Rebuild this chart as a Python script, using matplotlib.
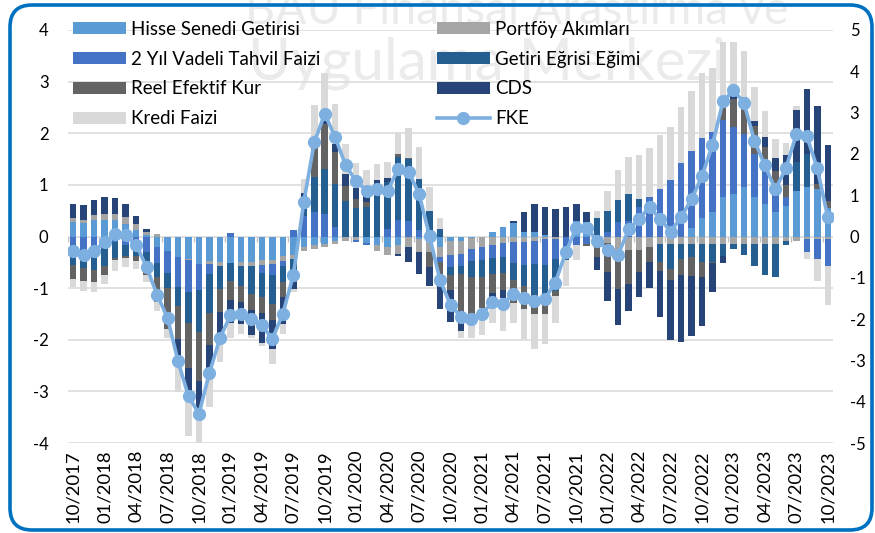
import numpy as np
import pandas as pd
import matplotlib
matplotlib.use("Agg")
import matplotlib.pyplot as plt
from matplotlib.patches import Patch, FancyBboxPatch
from matplotlib.lines import Line2D
from matplotlib.transforms import IdentityTransform

plt.rcParams['font.family'] = ['Lato', 'DejaVu Sans']
plt.rcParams['axes.unicode_minus'] = False

# ---------------- data ----------------
months = [d.strftime("%m/%Y") for d in pd.date_range("2017-10-01", "2023-10-01", freq="MS")]
tick_labels = months[::3]

hisse = [.29, .26, .31, .31, .31, .25, .12, .03, -.20, -.28,
         -.40, -.43, -.54, -.47, -.50, -.52, -.50, -.50, -.46, -.45,
         -.37, -.35, -.20, -.17, -.15, -.08, 0, 0, -.12, -.17,
         -.20, -.17, 0, -.05, -.05, -.20, -.09, -.08, -.02, 0,
         .08, .19, .26, .08, .08, .03, 0, 0, .30, .28,
         0, 0, 0, 0, 0, 0, 0, 0, 0, .16,
         .36, .48, .76, .83, .96, .76, .63, .47, .60, .89,
         .96, .92, .55]
portfoy = [.07, .06, .10, .12, .12, .13, .12, .06, .05, 0,
           0, -.03, 0, -.06, -.08, 0, -.08, -.08, -.09, -.09,
           -.10, -.08, -.08, -.08, -.05, -.07, -.09, -.07, 0, -.12,
           -.16, -.16, -.20, -.25, -.25, -.20, -.27, -.26, -.22, -.20,
           -.17, -.13, -.10, -.10, -.08, -.05, -.04, 0, 0, 0,
           -.10, -.12, -.27, -.27, -.27, -.20, -.14, -.14, -.14, -.14,
           -.14, -.14, -.14, -.14, -.14, -.14, -.14, -.14, -.08, -.08,
           -.04, -.04, -.04]
tahvil = [-.20, -.37, -.24, -.11, -.10, -.16, -.27, -.30, -.31, -.42,
          -.57, -.61, -.50, -.19, 0, .06, 0, 0, -.15, -.21,
          -.10, .13, .40, .47, .43, .18, 0, -.04, -.05, 0,
          .15, .31, .30, .12, .08, -.10, -.23, -.23, -.23, -.26,
          -.25, -.26, -.42, -.45, -.45, -.50, -.40, -.30, -.17, -.15,
          0, .08, .28, .30, .58, .76, .92, 1.09, 1.42, 1.50,
          1.55, 1.54, 1.50, 1.29, 1.03, .84, .81, .48, .16, 0,
          -.26, -.39, -.53]
getiri = [-.36, -.24, -.41, -.47, -.32, -.21, -.10, -.29, -.28, -.29,
          -.37, -.61, -.81, -.76, -.43, -.35, -.37, -.53, -.47, -.55,
          -.32, -.33, .20, .68, .88, .84, .68, .56, .57, 1.02,
          .90, 1.23, 1.20, 1.00, .42, .15, -.15, -.16, -.32, -.32,
          -.30, -.32, -.32, -.40, -.60, -.75, -.62, -.15, 0, 0,
          .35, .42, .43, .52, .15, 0, -.36, -.48, -.29, -.26,
          -.36, -.36, -.23, -.10, -.21, -.43, -.60, -.64, -.08, .55,
          .63, 0, 0]
reel = [-.26, -.26, -.24, -.16, -.04, -.05, -.10, -.16, -.47, -.81,
        -.65, -.87, -.94, -.63, -.45, -.36, -.32, -.32, -.32, -.32,
        -.29, -.12, .10, .71, .87, .61, .30, .17, .10, 0,
        0, .05, .03, 0, -.29, -.26, -.30, -.71, -.80, -.61,
        -.38, -.32, -.45, -.45, -.38, -.20, -.10, 0, 0, -.03,
        -.30, -.57, -.74, -.65, -.42, -.30, -.16, -.23, -.32, -.36,
        -.29, -.02, .25, .55, .65, .55, .29, .32, .23, 0,
        0, .10, .13]
cds = [.27, .29, .30, .34, .32, .24, .16, .05, 0, 0,
       -.42, -.48, -.65, -.55, -.42, -.45, -.42, -.48, -.58, -.55,
       -.52, -.13, .15, 0, .08, .17, .24, .20, .23, .08,
       .08, -.05, -.30, -.42, -.36, -.65, -.62, -.39, 0, 0,
       -.12, -.16, .04, .39, .54, .55, .54, .57, .33, .19,
       -.25, -.55, -.71, -.52, -.48, -.49, -.90, -1.16, -1.29, -1.16,
       -.94, -.55, -.15, .06, .06, .08, .19, .26, .58, 1.02,
       1.27, 1.50, 1.09]
kredi = [-.15, -.19, -.18, -.18, -.20, -.17, -.15, -.13, -.19, -.16,
         -.61, -.84, -.59, -.65, -.55, -.29, -.19, -.06, -.06, -.30,
         -.19, -.07, .27, .68, .90, .76, .58, .50, .38, .31,
         .32, .41, .58, .61, .46, .21, 0, -.13, -.38, -.52,
         -.45, -.65, -.39, -.58, -.67, -.58, -.52, -.50, -.28, 0,
         .15, .39, .58, .72, .85, .95, 1.04, 1.03, 1.09, 1.15,
         1.25, 1.24, 1.26, 1.03, .89, .67, .52, .36, .25, .06,
         -.13, -.44, -.76]
fke = [-0.34, -0.44, -0.34, -0.14, 0.05, 0.03, -0.20, -0.74, -1.41, -1.97,
       -3.02, -3.87, -4.29, -3.30, -2.46, -1.91, -1.87, -1.99, -2.15, -2.48,
       -1.87, -0.94, 0.83, 2.28, 2.97, 2.40, 1.72, 1.34, 1.11, 1.14,
       1.10, 1.64, 1.57, 1.03, 0.01, -1.06, -1.65, -1.95, -1.99, -1.87,
       -1.59, -1.63, -1.39, -1.49, -1.57, -1.51, -1.12, -0.38, 0.21, 0.21,
       -0.10, -0.32, -0.44, 0.17, 0.43, 0.71, 0.43, 0.12, 0.47, 0.90,
       1.46, 2.22, 3.27, 3.54, 3.24, 2.32, 1.72, 1.14, 1.65, 2.47,
       2.43, 1.65, 0.47]

series_names = ["Hisse Senedi Getirisi", "Portföy Akımları", "2 Yıl Vadeli Tahvil Faizi",
                "Getiri Eğrisi Eğimi", "Reel Efektif Kur", "CDS", "Kredi Faizi"]
series_vals = [hisse, portfoy, tahvil, getiri, reel, cds, kredi]
series_colors = ["#5B9BD5", "#A5A5A5", "#4472C4", "#255E91", "#636363", "#264478", "#D9D9D9"]
line_name = "FKE"
line_color = "#7DAFE0"

# ---------------- figure ----------------
W, H = 875, 533
fig = plt.figure(figsize=(W / 100, H / 100), dpi=100)
fig.patch.set_facecolor("white")

# watermark
fig.text(245 / W, 1 - 24 / H, "BAU Finansal Araştırma ve", fontsize=33.5,
         color="#EBEBEB", va="baseline", ha="left", zorder=-1)
fig.text(248 / W, 1 - 79 / H, "Uygulama Merkezi", fontsize=42,
         color="#EBEBEB", va="baseline", ha="left", zorder=-1)

ax = fig.add_axes([68 / W, 1 - 443 / H, (833 - 68) / W, (443 - 30) / H])
ax.patch.set_visible(False)
ax2 = ax.twinx()
ax2.patch.set_visible(False)

n = len(months)
x = np.arange(n)
pos_b = np.zeros(n)
neg_b = np.zeros(n)
for vals, col in zip(series_vals, series_colors):
    v = np.array(vals, dtype=float)
    b = np.where(v >= 0, pos_b, neg_b)
    ax.bar(x, v, 0.62, bottom=b, color=col, linewidth=0, zorder=3)
    pos_b += np.where(v > 0, v, 0)
    neg_b += np.where(v < 0, v, 0)

ax.set_xlim(-0.5, n - 0.5)
ax.set_ylim(-4, 4)
ax.set_yticks(range(-4, 5))
ax.grid(axis="y", color="#D9D9D9", lw=1.1, zorder=1)
ax.set_axisbelow(True)
for s in ax.spines.values():
    s.set_visible(False)
for s in ax2.spines.values():
    s.set_visible(False)

# small category tick marks on the zero line
ax.vlines(np.arange(-0.5, n, 3), -0.1, 0, color="#BFBFBF", lw=1, zorder=2)

ax.set_xticks(x[::3])
ax.set_xticklabels(tick_labels, rotation=90, fontsize=13.3, va="top", ha="center")
ax.tick_params(axis="x", length=0, pad=5)
ax.tick_params(axis="y", length=0, pad=14, labelsize=12)

ax2.plot(x, fke, color=line_color, lw=2.6, marker="o", ms=8.5, zorder=5)
ax2.set_ylim(-5, 5)
ax2.set_yticks(range(-5, 6))
ax2.tick_params(axis="y", length=0, pad=12, labelsize=12)

# legends (two columns)
handles = [Patch(facecolor=c, edgecolor="none") for c in series_colors]
fke_handle = Line2D([], [], color=line_color, lw=2.6, marker="o", ms=8.5)
col1_idx = [0, 2, 4, 6]
col2_idx = [1, 3, 5]
leg_kw = dict(loc="upper left", bbox_transform=fig.transFigure, frameon=False,
              fontsize=13.5, handlelength=2.8, handleheight=0.62, handletextpad=0.3,
              labelspacing=0.68, borderpad=0, borderaxespad=0)
leg1 = ax2.legend([handles[i] for i in col1_idx], [series_names[i] for i in col1_idx],
                  bbox_to_anchor=(73 / W, 1 - 21 / H), **leg_kw)
ax2.add_artist(leg1)
leg2 = ax2.legend([handles[i] for i in col2_idx] + [fke_handle],
                  [series_names[i] for i in col2_idx] + [line_name],
                  bbox_to_anchor=(437 / W, 1 - 21 / H), **leg_kw)

# rounded blue frame
frame = FancyBboxPatch((10, 3), 862, 525, boxstyle="round,pad=0,rounding_size=22",
                       transform=IdentityTransform(), fill=False,
                       edgecolor="#0070C0", lw=2.6, zorder=10)
fig.add_artist(frame)

fig.savefig("out.png", dpi=100)
